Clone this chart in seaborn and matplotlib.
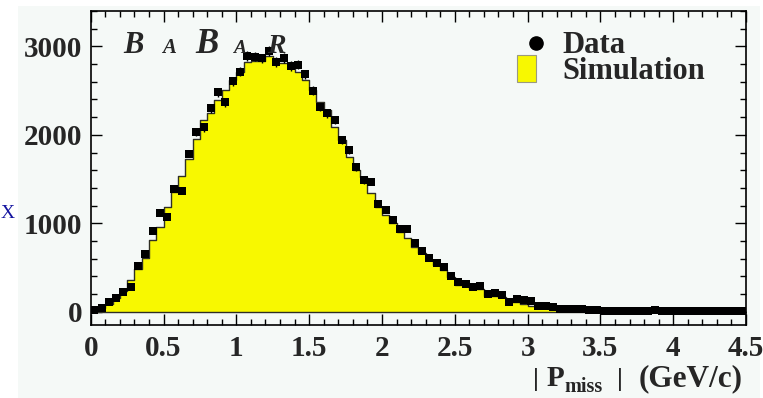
import numpy as np
import pandas as pd
import matplotlib
matplotlib.use("Agg")
import matplotlib.pyplot as plt
from matplotlib.patches import Rectangle
from matplotlib.lines import Line2D
from matplotlib.ticker import MultipleLocator, FixedLocator, FixedFormatter
import seaborn as sns

# |P_miss| histogram: 90 bins of 0.05 GeV/c from 0 to 4.5
bin_width = 0.05
n_bins = 90

data_counts = [
    20, 40, 105, 150, 220, 282, 516, 648, 908, 1112,
    1067, 1390, 1365, 1788, 2035, 2083, 2298, 2479, 2366, 2607,
    2716, 2890, 2885, 2865, 2949, 2825, 2870, 2780, 2795, 2686,
    2497, 2313, 2242, 2170, 1945, 1827, 1632, 1484, 1469, 1217,
    1153, 1036, 935, 931, 776, 684, 606, 554, 502, 403,
    340, 315, 283, 294, 198, 217, 187, 115, 147, 128,
    126, 68, 66, 50, 27, 34, 34, 28, 15, 15,
    3, 6, 8, 5, 7, 9, 6, 18, 7, 10,
    6, 5, 8, 12, 6, 5, 7, 4, 6, 5,
]

sim_counts = [
    10, 40, 90, 160, 235, 362, 480, 603, 810, 960,
    1186, 1349, 1533, 1722, 1955, 2166, 2242, 2392, 2505, 2618,
    2712, 2825, 2830, 2830, 2890, 2815, 2815, 2810, 2712, 2620,
    2505, 2373, 2279, 2090, 1940, 1751, 1601, 1525, 1338, 1186,
    1093, 1006, 904, 829, 734, 660, 584, 528, 471, 389,
    302, 302, 253, 253, 177, 177, 162, 113, 113, 85,
    70, 50, 38, 27, 18, 12, 8, 6, 5, 4,
    3, 2, 2, 2, 1, 1, 1, 1, 1, 1,
    1, 0, 0, 0, 0, 0, 0, 0, 0, 0,
]

x_ticks = [0, 0.5, 1, 1.5, 2, 2.5, 3, 3.5, 4, 4.5]
x_tick_labels = ["0", "0.5", "1", "1.5", "2", "2.5", "3", "3.5", "4", "4.5"]
y_ticks = [0, 1000, 2000, 3000]
y_tick_labels = ["0", "1000", "2000", "3000"]

edges = np.arange(n_bins + 1) * bin_width
centers = (edges[:-1] + edges[1:]) / 2
df = pd.DataFrame({"p": centers, "data": data_counts, "sim": sim_counts})

sns.set_style("ticks")
plt.rcParams["font.family"] = ["Liberation Serif", "DejaVu Serif"]
plt.rcParams["font.weight"] = "bold"

W, H = 763, 398
bg = "#f5f9f7"
yellow = "#f8f800"

fig = plt.figure(figsize=(W / 100, H / 100), dpi=100)
fig.patch.set_facecolor("white")
fig.patches.append(Rectangle((18 / W, 0), 742 / W, 392 / H, transform=fig.transFigure,
                             facecolor=bg, edgecolor="none", zorder=-10))

ax = fig.add_axes([90.7 / W, 1 - 325 / H, (746 - 90.7) / W, (325 - 11) / H])
ax.set_facecolor(bg)

# simulation as filled step histogram
sns.histplot(data=df, x="p", weights="sim", bins=edges.tolist(), element="step", fill=True,
             color=yellow, alpha=1, edgecolor="#2f2f25", linewidth=1.0, ax=ax, zorder=1)

# data points with statistical errors
ax.errorbar(df["p"], df["data"], yerr=np.sqrt(df["data"]), fmt="none",
            ecolor="black", elinewidth=1.0, capsize=0, zorder=3)
sns.scatterplot(data=df, x="p", y="data", marker="s", s=30, color="black",
                linewidth=0, ax=ax, zorder=4)

ax.set_xlim(0, 4.5)
ax.set_ylim(-150, 3400)
ax.set_xlabel("")
ax.set_ylabel("")
ax.xaxis.set_major_locator(FixedLocator(x_ticks))
ax.xaxis.set_major_formatter(FixedFormatter(x_tick_labels))
ax.yaxis.set_major_locator(FixedLocator(y_ticks))
ax.yaxis.set_major_formatter(FixedFormatter(y_tick_labels))
ax.xaxis.set_minor_locator(MultipleLocator(0.1))
ax.yaxis.set_minor_locator(MultipleLocator(200))
ax.tick_params(which="both", direction="in", top=True, right=True, width=1.0, color="black")
ax.tick_params(which="major", length=8)
ax.tick_params(which="minor", length=4.3)
ax.tick_params(axis="y", which="major", pad=6, labelsize=21)
ax.tick_params(axis="x", which="major", pad=7, labelsize=21)
for lab in ax.get_xticklabels() + ax.get_yticklabels():
    lab.set_fontweight("bold")
for sp in ax.spines.values():
    sp.set_linewidth(1.2)
    sp.set_color("black")

# axis title, set piece by piece so the subscript sits low
title_base = 1 - 386 / H
fig.text(533 / W, title_base, "|", ha="left", va="baseline", fontsize=19, fontweight="bold")
fig.text(547 / W, title_base, "P", ha="left", va="baseline", fontsize=21, fontweight="bold")
fig.text(564 / W, 1 - 392 / H, "miss", ha="left", va="baseline", fontsize=14.5, fontweight="bold")
fig.text(617 / W, title_base, "|", ha="left", va="baseline", fontsize=19, fontweight="bold")
fig.text(743 / W, title_base, "(GeV/c)", ha="right", va="baseline", fontsize=22.5, fontweight="bold")

# experiment logo
logo = [("B", 123, 22), ("A", 162, 15), ("B", 195, 25), ("A", 233, 14), ("R", 267, 20)]
for ch, xp, fs in logo:
    fig.text(xp / W, 1 - 53 / H, ch, ha="left", va="baseline", fontsize=fs,
             fontweight="bold", fontstyle="italic")

# legend
fig.add_artist(Line2D([535.5 / W], [1 - 42.5 / H], marker="o", markersize=9.5,
                      color="black", linestyle="none", transform=fig.transFigure))
fig.patches.append(Rectangle((517 / W, 1 - 82 / H), 19 / W, 27 / H, transform=fig.transFigure,
                             facecolor=yellow, edgecolor="#9a9a80", linewidth=0.8, zorder=5))
fig.text(562 / W, 1 - 52.7 / H, "Data", ha="left", va="baseline", fontsize=22, fontweight="bold")
fig.text(562 / W, 1 - 79 / H, "Simulation", ha="left", va="baseline", fontsize=22, fontweight="bold")

# small label at the left edge
fig.text(0.5 / W, 1 - 218 / H, "X", ha="left", va="baseline", fontsize=14,
         color="#1414a0", fontweight="normal")

fig.savefig("out.png", dpi=100, facecolor=fig.get_facecolor())
